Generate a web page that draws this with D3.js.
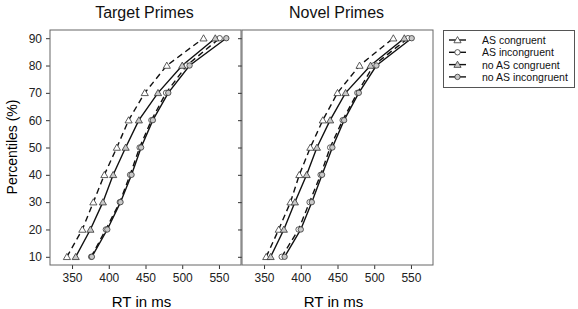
<!DOCTYPE html>
<html><head><meta charset="utf-8">
<script src="https://cdn.jsdelivr.net/npm/d3@7"></script>
<style>body{margin:0;background:#fff}svg{display:block;font-family:Arial,"Liberation Sans",sans-serif}</style>
</head><body><svg id="c" width="578" height="309"></svg>
<script>
const percentiles = [10,20,30,40,50,60,70,80,90];
const xTicks = [350,400,450,500,550];
const yTicks = [10,20,30,40,50,60,70,80,90];
const panelTitles = ["Target Primes","Novel Primes"];
const seriesNames = ["AS congruent","AS incongruent","no AS congruent","no AS incongruent"];
// Target primes
const targetASCong    = [343,364,379,394,411,427,449,479,529];
const targetASIncong  = [376,396,415,429,442,458,478,506,551];
const targetNoASCong  = [355,375,392,406,423,441,467,500,545];
const targetNoASIncong= [377,398,416,431,444,460,481,510,560];
// Novel primes
const novelASCong     = [353,370,386,398,413,430,450,480,526];
const novelASIncong   = [374,397,412,427,440,457,477,499,546];
const novelNoASCong   = [359,377,392,408,422,440,461,495,541];
const novelNoASIncong = [378,400,415,429,443,459,479,503,551];

const panels = [
  {title: panelTitles[0], data: [targetASCong, targetASIncong, targetNoASCong, targetNoASIncong]},
  {title: panelTitles[1], data: [novelASCong, novelASIncong, novelNoASCong, novelNoASIncong]}
];
const styles = [
  {dash:"6,4", shape:"tri", fill:"#fff"},
  {dash:"6,4", shape:"circ", fill:"#fff"},
  {dash:null, shape:"tri", fill:"#c8c8c8"},
  {dash:null, shape:"circ", fill:"#c8c8c8"}
];

const svg = d3.select("#c");
const plotTop = 30, plotBottom = 265;
const panelX = [[50,241],[242,433]];
const y = d3.scaleLinear().domain([7,93]).range([plotBottom, plotTop]);

function marker(g, shape, fill, cx, cy){
  if(shape==="tri"){
    g.append("path").attr("d", d3.symbol(d3.symbolTriangle, 22)()).attr("transform",`translate(${cx},${cy+0.7})`)
     .attr("fill",fill).attr("stroke","#333").attr("stroke-width",0.8);
  } else {
    g.append("circle").attr("cx",cx).attr("cy",cy).attr("r",2.7).attr("fill",fill).attr("stroke","#333").attr("stroke-width",0.8);
  }
}

panels.forEach((p,i)=>{
  const [x0,x1] = panelX[i];
  const x = d3.scaleLinear().domain([320,580]).range([x0,x1]);
  const g = svg.append("g");
  const xa = g.append("g").attr("transform",`translate(0,${plotBottom})`)
    .call(d3.axisBottom(x).tickValues(xTicks).tickSize(4).tickPadding(4));
  xa.select(".domain").remove();
  xa.selectAll("line").attr("stroke","#333");
  xa.selectAll("text").attr("font-size",12).attr("fill","#222").attr("font-family","Arial, Liberation Sans");
  const ya = g.append("g").attr("transform",`translate(${x0},0)`)
    .call(d3.axisLeft(y).tickValues(yTicks).tickSize(4).tickPadding(4));
  ya.select(".domain").remove();
  ya.selectAll("line").attr("stroke","#333");
  ya.selectAll("text").attr("font-size",12).attr("fill","#222").attr("font-family","Arial, Liberation Sans")
    .style("display", i===0 ? null : "none");
  g.append("rect").attr("x",x0).attr("y",plotTop).attr("width",x1-x0).attr("height",plotBottom-plotTop)
    .attr("fill","none").attr("stroke","#666").attr("stroke-width",1);
  const line = d3.line().x(d=>x(d[0])).y(d=>y(d[1]));
  p.data.forEach((vals,k)=>{
    const pts = vals.map((v,j)=>[v, percentiles[j]]);
    g.append("path").attr("d", line(pts)).attr("fill","none").attr("stroke","#111").attr("stroke-width",1.4)
      .attr("stroke-dasharray", styles[k].dash);
  });
  p.data.forEach((vals,k)=>{
    vals.forEach((v,j)=>marker(g, styles[k].shape, styles[k].fill, x(v), y(percentiles[j])));
  });
  g.append("text").attr("x",(x0+x1)/2-1).attr("y",18).attr("text-anchor","middle")
    .attr("font-size",16).attr("fill","#111").text(p.title);
  g.append("text").attr("x",(x0+x1)/2 - 4).attr("y",307).attr("text-anchor","middle")
    .attr("font-size",15).text("RT in ms");
});

svg.append("text").attr("transform","translate(17,147) rotate(-90)").attr("text-anchor","middle")
  .attr("font-size",14).text("Percentiles (%)");

const lg = svg.append("g");
lg.append("rect").attr("x",443.5).attr("y",30.5).attr("width",131).attr("height",57).attr("fill","#fff").attr("stroke","#555");
seriesNames.forEach((n,k)=>{
  const yy = 40 + k*12.3;
  lg.append("line").attr("x1",449).attr("x2",466).attr("y1",yy).attr("y2",yy).attr("stroke","#111").attr("stroke-width",1.4);
  marker(lg, styles[k].shape, styles[k].fill, 457.5, yy);
  lg.append("text").attr("x",482).attr("y",yy+4).attr("font-size",10.5).attr("fill","#111").text(n);
});
</script></body></html>
